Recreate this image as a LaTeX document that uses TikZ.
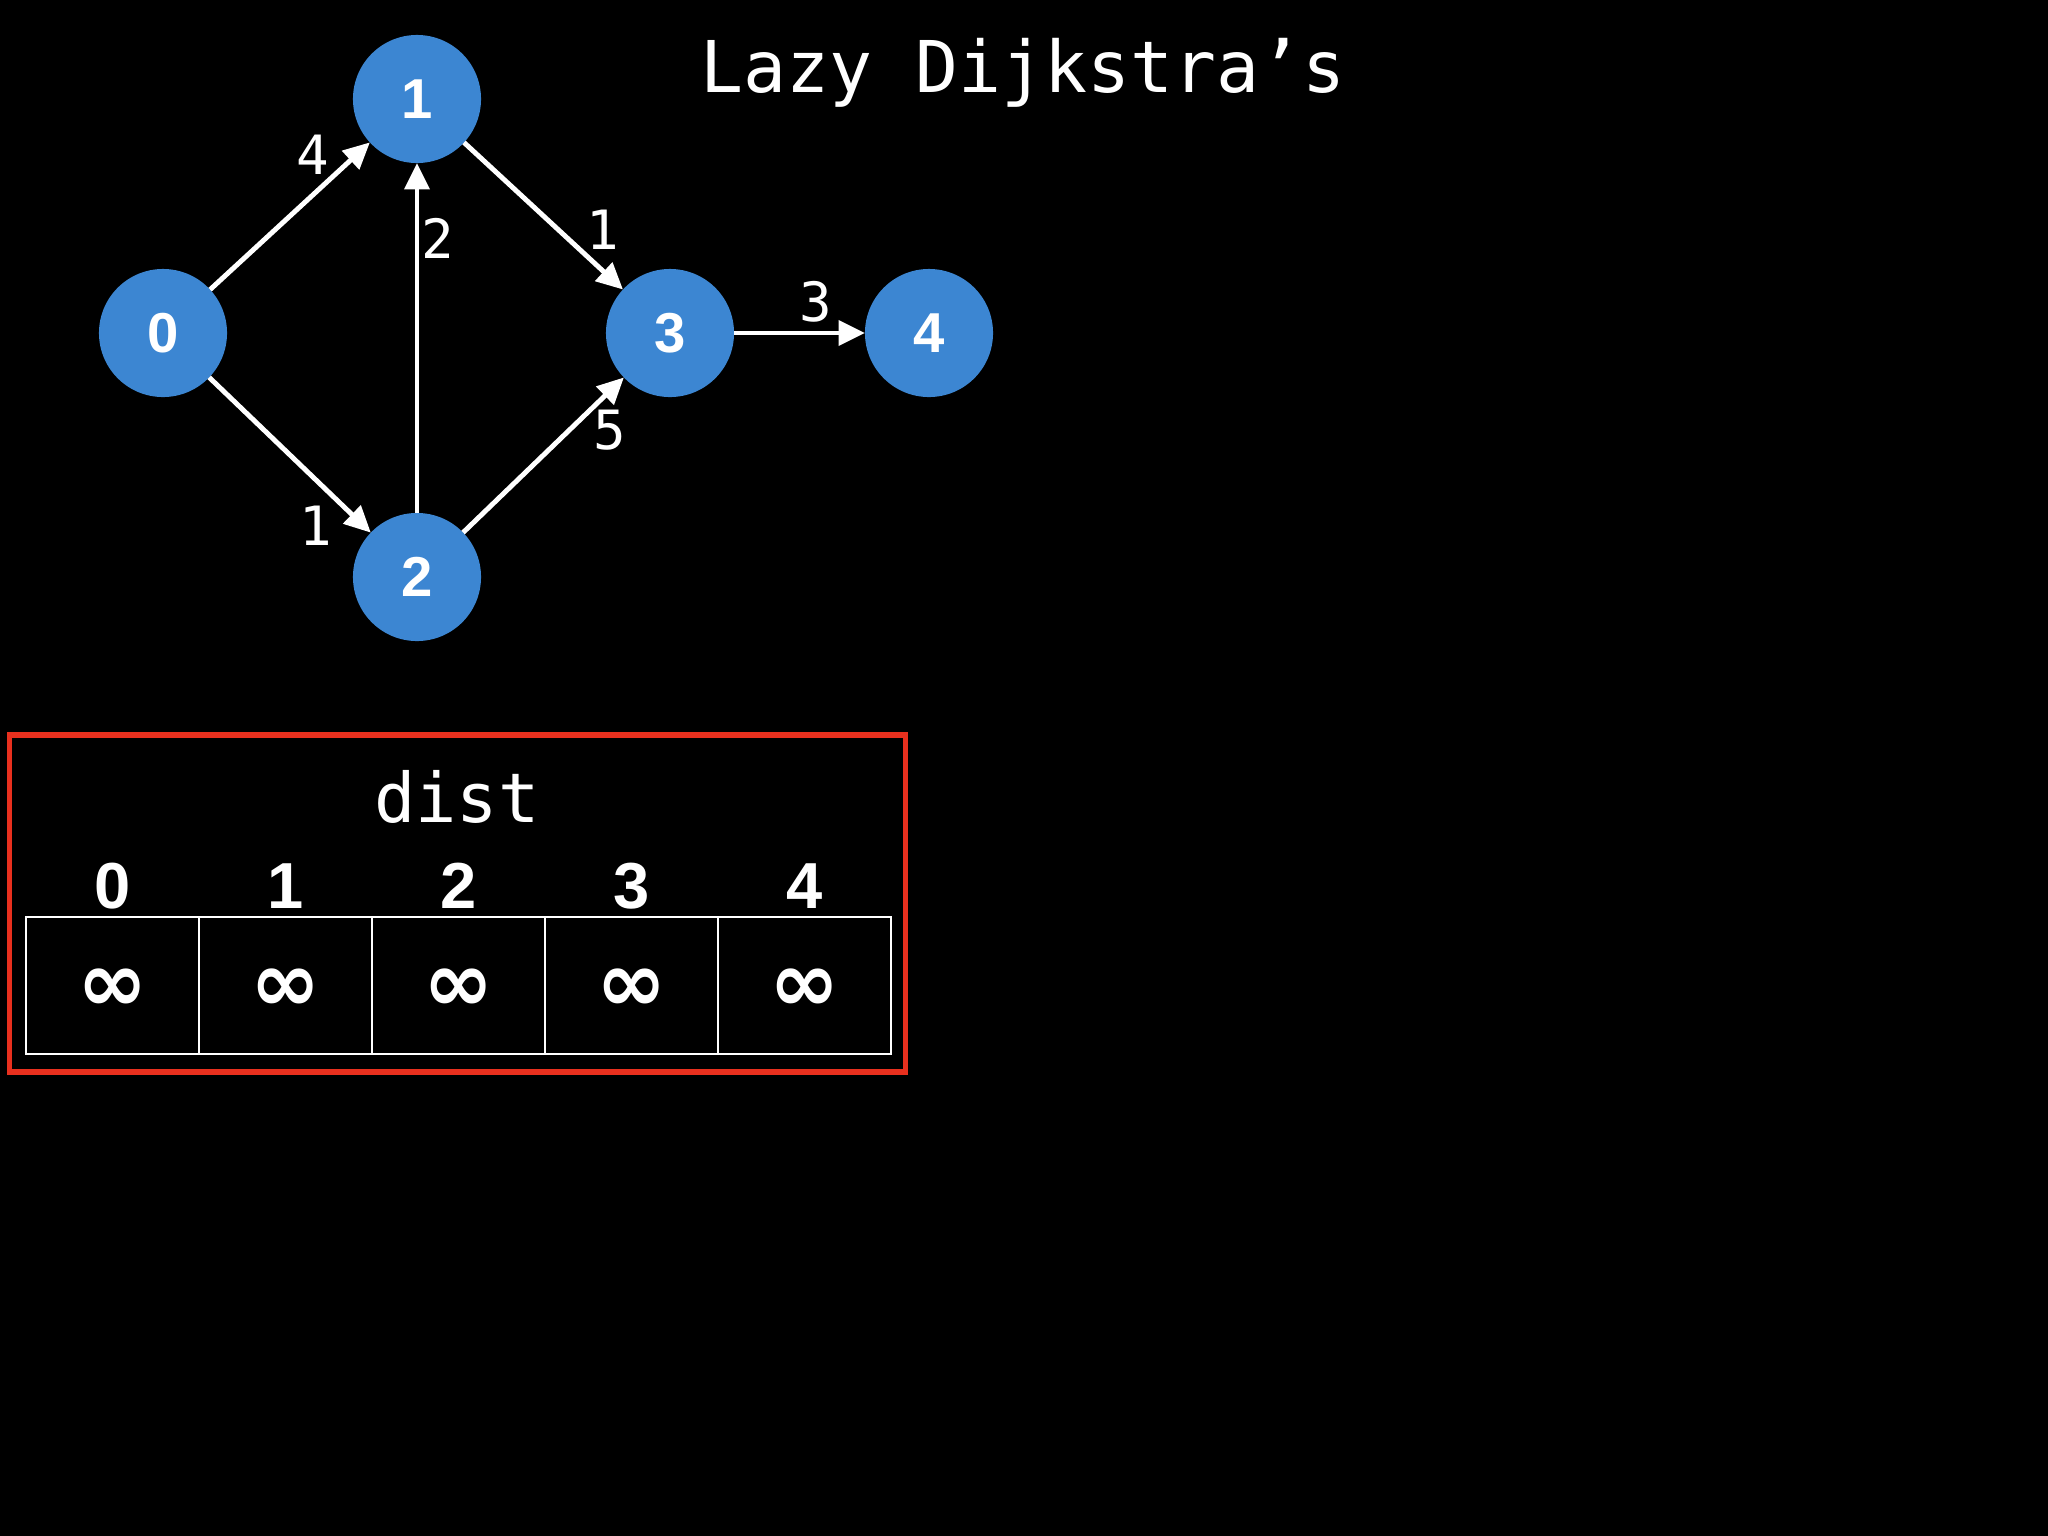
\documentclass[tikz,border=0pt]{standalone}
\usepackage{fontspec}
\setmainfont{Liberation Sans}
\newfontfamily\monof{DejaVu Sans Mono}
\newfontfamily\infof{DejaVu Sans}
\usetikzlibrary{arrows.meta}
\definecolor{nodeblue}{RGB}{60,134,210}
\definecolor{boxred}{RGB}{232,48,30}
\tikzset{
  vert/.style={circle,fill=nodeblue,minimum size=1.28cm,inner sep=0pt,outer sep=0pt,text=white,font=\fontsize{16}{18}\selectfont\bfseries},
  edge/.style={draw=white,line width=1.4pt,-{Triangle[length=7.5pt,width=7pt]}},
  elab/.style={text=white,font=\monof\fontsize{15.4}{17}\selectfont,inner sep=0pt},
  cell/.style={draw=white,line width=0.65pt,minimum width=1.73cm,minimum height=1.37cm,inner sep=0pt,outer sep=0pt},
  inf/.style={text=white,font=\infof\bfseries\fontsize{24}{26}\selectfont,inner sep=0pt},
  head/.style={text=white,font=\fontsize{18.5}{20}\selectfont\bfseries,inner sep=0pt}
}
\begin{document}
\begin{tikzpicture}[x=0.01cm,y=-0.01cm]
\useasboundingbox (0,0) rectangle (2048,1536);
\fill[black] (0,0) rectangle (2048,1536);
% title
\node[text=white,font=\monof\fontsize{20.3}{22}\selectfont,inner sep=0pt] (title) at (1023,73) {Lazy Dijkstra’s};
% vertices
\node[vert] (n0) at (163,333) {0};
\node[vert] (n1) at (417,99) {1};
\node[vert] (n2) at (417,577) {2};
\node[vert] (n3) at (670,333) {3};
\node[vert] (n4) at (929,333) {4};
% edges
\draw[edge] (n0) -- (n1);
\draw[edge] (n0) -- (n2);
\draw[edge] (n2) -- (n1);
\draw[edge] (n1) -- (n3);
\draw[edge] (n2) -- (n3);
\draw[edge] (n3) -- (n4);
% edge labels
\node[elab] (l01) at (313,155) {4};
\node[elab] (l21) at (438,238) {2};
\node[elab] (l13) at (603,230) {1};
\node[elab] (l34) at (816,302) {3};
\node[elab] (l23) at (610,430) {5};
\node[elab] (l02) at (316,526) {1};
% dist box
\node[draw=boxred,line width=1.5pt,minimum width=8.95cm,minimum height=3.37cm,inner sep=0pt] (box) at (457.5,903.5) {};
\node[text=white,font=\monof\fontsize{19.5}{21}\selectfont,inner sep=0pt] (dist) at (457,797) {dist};
\foreach \i/\x in {0/112.5,1/285.5,2/458.5,3/631.5,4/804.5}{
  \node[head] (h\i) at (\x,886) {\i};
  \node[cell] (c\i) at (\x,985.5) {};
  \node[inf] (v\i) at (\x,990) {∞};
}
\end{tikzpicture}
\end{document}
